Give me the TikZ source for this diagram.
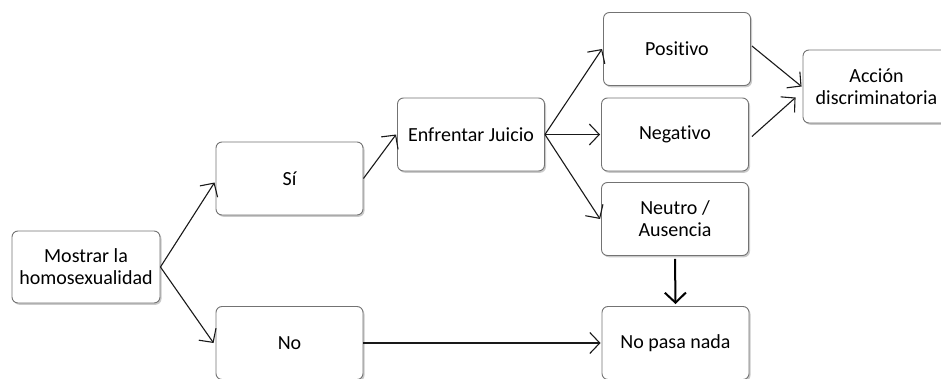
\documentclass[tikz,border=0pt]{standalone}
\usepackage{fontspec}
\setmainfont[Ligatures=NoCommon]{Carlito}
\usetikzlibrary{arrows.meta,shadows,calc}
\begin{document}
\begin{tikzpicture}[x=1pt,y=-1pt,
  box/.style={draw=black!55, line width=0.9pt, fill=white, rounded corners=6pt,
    minimum width=147pt, minimum height=73pt, inner sep=2pt, align=center,
    font=\fontsize{20}{22}\selectfont, text=black,
    drop shadow={shadow xshift=1.5pt, shadow yshift=-1.8pt, opacity=0.35, fill=black!60}},
  conn/.style={draw=black!90, line width=1.1pt, -{Straight Barb[length=10pt,width=21pt,line width=1.1pt]}},
  thick conn/.style={draw=black, line width=2pt, -{Straight Barb[length=10pt,width=21pt,line width=2pt]}}
]
\path[use as bounding box, clip] (0,0) rectangle (941,379);
\node[box, minimum width=148pt, minimum height=72pt] (mos) at (86,267) {Mostrar la\\homosexualidad};
\node[box] (si) at (289.5,178.5) {Sí};
\node[box] (no) at (289.5,343) {No};
\node[box] (enf) at (471,134.5) {Enfrentar Juicio};
\node[box] (pos) at (677,49) {Positivo};
\node[box] (neg) at (675,134.5) {Negativo};
\node[box] (neu) at (675,219) {Neutro /\\Ausencia};
\node[box] (np) at (675.5,343) {No pasa nada};
\node[box] (acc) at (876.5,86.5) {Acción\\discriminatoria};

\draw[conn] (mos.east) -- ($(si.west)+(-1,4)$);
\draw[conn] (mos.east) -- ($(no.west)+(-2,0)$);
\draw[conn] (si.east) -- ($(enf.west)+(-1,0)$);
\draw[conn] (enf.east) -- ($(pos.west)+(-1,0)$);
\draw[conn] (enf.east) -- ($(neg.west)+(-1,0)$);
\draw[conn] (enf.east) -- ($(neu.west)+(-1,0)$);
\draw[conn] ($(pos.east)+(1,-3)$) -- ($(acc.west)+(-1,0)$);
\draw[conn] ($(neg.east)+(3,2)$) -- ($(acc.west)+(-7,11)$);
\draw[thick conn] (neu.south) ++(0,3) -- ($(np.north)+(0,-2)$);
\draw[conn] (no.east) -- ($(np.west)+(-1,0)$);
\end{tikzpicture}
\end{document}
